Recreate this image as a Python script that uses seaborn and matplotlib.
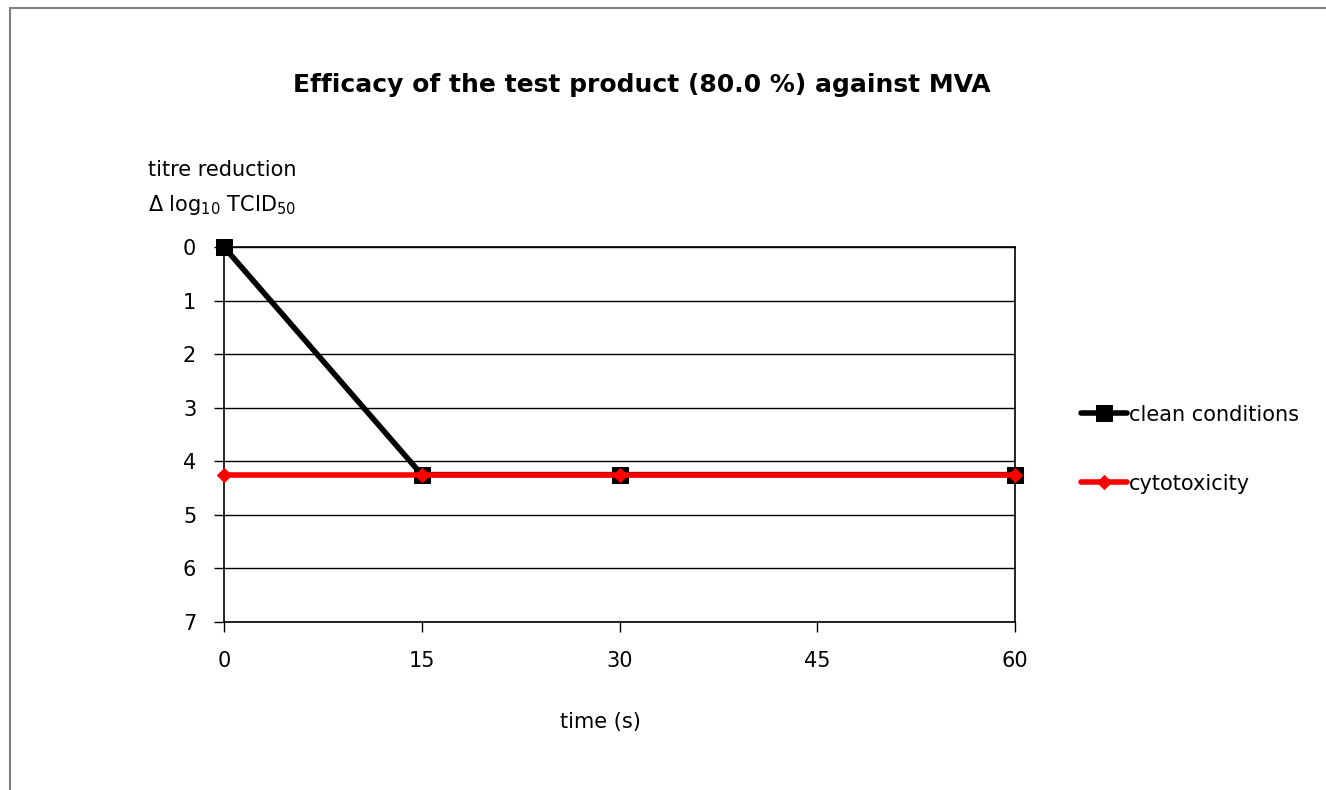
import pandas as pd
import matplotlib.pyplot as plt
import seaborn as sns
from matplotlib.lines import Line2D

# data
time_ticks = [0, 15, 30, 45, 60]
clean_time = [0, 15, 30, 60]
clean_red = [0, 4.25, 4.25, 4.25]
cyto_time = [0, 15, 30, 60]
cyto_red = [4.25, 4.25, 4.25, 4.25]
y_ticks = [0, 1, 2, 3, 4, 5, 6, 7]

sns.set_theme(style="white")
plt.rcParams['font.family'] = ['DejaVu Sans']
plt.rcParams['mathtext.default'] = 'regular'
plt.rcParams['text.color'] = 'black'
plt.rcParams['xtick.color'] = 'black'
plt.rcParams['ytick.color'] = 'black'

df_clean = pd.DataFrame({'time': clean_time, 'red': clean_red})
df_cyto = pd.DataFrame({'time': cyto_time, 'red': cyto_red})

fig = plt.figure(figsize=(13.26, 7.9), dpi=100)
ax = fig.add_axes([0.1689, 0.2127, 0.5966, 0.4747])

sns.lineplot(data=df_clean, x='time', y='red', ax=ax, color='black', lw=4,
             marker='s', markersize=11, markeredgecolor='black',
             label='clean conditions', zorder=3, clip_on=False)
sns.lineplot(data=df_cyto, x='time', y='red', ax=ax, color='#ff0000', lw=4,
             marker='D', markersize=7, markeredgecolor='#ff0000',
             label='cytotoxicity', zorder=4, clip_on=False)

ax.set_xlim(0, 60)
ax.set_ylim(7, 0)
ax.set_xticks(time_ticks)
ax.set_yticks(y_ticks)
ax.tick_params(axis='both', labelsize=15, length=7, width=1, color='black',
               labelcolor='black', direction='out', bottom=True, left=True)
ax.tick_params(axis='y', pad=13)
ax.tick_params(axis='x', pad=14)
ax.yaxis.grid(True, color='black', lw=1)
ax.xaxis.grid(False)
for s in ax.spines.values():
    s.set_color('black')
    s.set_linewidth(1.2)
ax.set_xlabel('')
ax.set_ylabel('')

fig.text(0.484, 0.892, 'Efficacy of the test product (80.0 %) against MVA',
         ha='center', va='center', fontsize=18, fontweight='bold')
fig.text(0.1115, 0.785, 'titre reduction', ha='left', va='center', fontsize=15)
fig.text(0.1115, 0.74, r'$\Delta$ log$_{10}$ TCID$_{50}$', ha='left', va='center', fontsize=15)
fig.text(0.453, 0.086, 'time (s)', ha='center', va='center', fontsize=15)

ax.legend(loc='center left', bbox_to_anchor=(1.06, 0.461), frameon=False,
          fontsize=15, handlelength=2.2, handletextpad=0.1, labelspacing=2.35)

# outer frame (top and left only)
fig.add_artist(Line2D([0.0075, 1], [0.99, 0.99], color='#808080', lw=1.5, transform=fig.transFigure))
fig.add_artist(Line2D([0.0075, 0.0075], [0, 0.99], color='#808080', lw=1.5, transform=fig.transFigure))

fig.savefig('out.png', dpi=100, facecolor='white')
